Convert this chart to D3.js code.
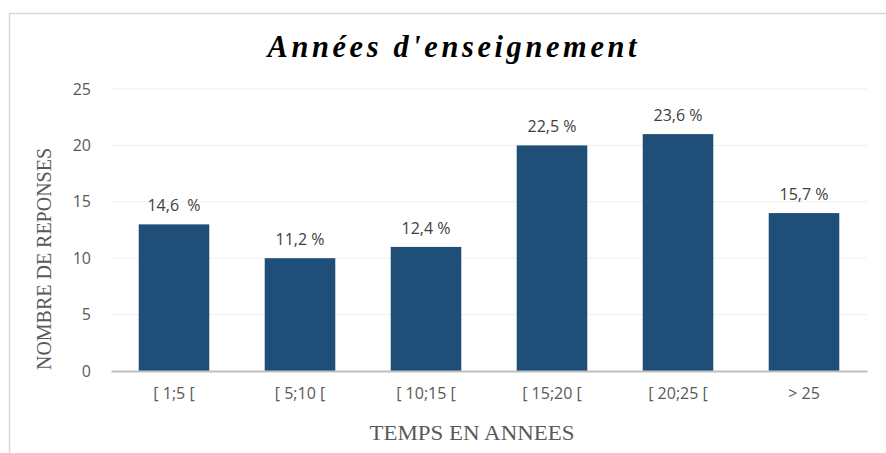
<!DOCTYPE html>
<html>
<head>
<meta charset="utf-8">
<script src="https://cdn.jsdelivr.net/npm/d3@7"></script>
<style>
  body { margin: 0; background: #fff; }
  svg { display: block; }
</style>
</head>
<body>
<div id="chart"></div>
<script>
var categories = ["[ 1;5 [", "[ 5;10 [", "[ 10;15 [", "[ 15;20 [", "[ 20;25 [", "> 25"];
var responses = [13, 10, 11, 20, 21, 14];
var percentLabels = ["14,6  %", "11,2 %", "12,4 %", "22,5 %", "23,6 %", "15,7 %"];
var yTicks = [0, 5, 10, 15, 20, 25];

var W = 886, H = 453;
var margin = {top: 89, right: 19, bottom: 82, left: 111};
var width = W - margin.left - margin.right;
var height = H - margin.top - margin.bottom;

var svg = d3.select("#chart").append("svg")
    .attr("width", W)
    .attr("height", H);

// chart frame
svg.append("rect")
    .attr("x", 9.5).attr("y", 13.5)
    .attr("width", W + 10).attr("height", H + 10)
    .attr("fill", "none")
    .attr("stroke", "#d9d9d9")
    .attr("stroke-width", 1.5);

// title: slightly narrow glyphs, a little letter spacing
var titleScale = 0.95;
svg.append("text")
    .attr("transform", "translate(452,57) scale(" + titleScale + ",1)")
    .attr("text-anchor", "middle")
    .attr("textLength", 369 / titleScale)
    .attr("lengthAdjust", "spacing")
    .style("font-family", "'Liberation Serif', 'DejaVu Serif', serif")
    .style("font-weight", "bold")
    .style("font-style", "italic")
    .style("font-size", "32px")
    .style("fill", "#000")
    .text("Années d'enseignement");

var x = d3.scaleBand().domain(categories).range([0, width]).paddingInner(0.44).paddingOuter(0.22);
var y = d3.scaleLinear().domain([0, 25]).range([height, 0]);

var g = svg.append("g").attr("transform", "translate(" + margin.left + "," + margin.top + ")");

// gridlines
g.selectAll(".grid").data(yTicks.slice(1)).enter().append("line")
    .attr("x1", 0).attr("x2", width)
    .attr("y1", function(d) { return y(d); })
    .attr("y2", function(d) { return y(d); })
    .attr("stroke", "#efefef")
    .attr("stroke-width", 1);

var yAxis = g.append("g")
    .call(d3.axisLeft(y).tickValues(yTicks).tickSize(0).tickPadding(20));
yAxis.select(".domain").remove();
yAxis.selectAll("text")
    .style("font-family", "'Open Sans', 'Liberation Sans', sans-serif")
    .style("font-size", "16px")
    .style("fill", "#595959");

g.selectAll(".bar").data(responses).enter().append("rect")
    .attr("x", function(d, i) { return x(categories[i]); })
    .attr("y", function(d) { return y(d); })
    .attr("width", x.bandwidth())
    .attr("height", function(d) { return height - y(d); })
    .attr("fill", "#1f4e79");

g.selectAll(".lbl").data(responses).enter().append("text")
    .attr("x", function(d, i) { return x(categories[i]) + x.bandwidth() / 2; })
    .attr("y", function(d) { return y(d) - 13; })
    .attr("text-anchor", "middle")
    .style("font-family", "'Open Sans', 'Liberation Sans', sans-serif")
    .style("font-size", "16px")
    .style("fill", "#404040")
    .style("white-space", "pre")
    .text(function(d, i) { return percentLabels[i]; });

var xAxis = g.append("g")
    .attr("transform", "translate(0," + height + ")")
    .call(d3.axisBottom(x).tickSize(0).tickPadding(17));
xAxis.select(".domain")
    .attr("stroke", "#bfbfbf")
    .attr("stroke-width", 2);
xAxis.selectAll("text")
    .style("font-family", "'Open Sans', 'Liberation Sans', sans-serif")
    .style("font-size", "16px")
    .style("fill", "#595959");

svg.append("text")
    .attr("transform", "translate(51,259) rotate(-90)")
    .attr("text-anchor", "middle")
    .attr("textLength", 222)
    .attr("lengthAdjust", "spacingAndGlyphs")
    .style("font-family", "'Liberation Serif', 'DejaVu Serif', serif")
    .style("font-size", "20px")
    .style("fill", "#595959")
    .text("NOMBRE DE REPONSES");

svg.append("text")
    .attr("x", 472).attr("y", 440)
    .attr("text-anchor", "middle")
    .attr("textLength", 205)
    .attr("lengthAdjust", "spacingAndGlyphs")
    .style("font-family", "'Liberation Serif', 'DejaVu Serif', serif")
    .style("font-size", "20px")
    .style("fill", "#595959")
    .text("TEMPS EN ANNEES");
</script>
</body>
</html>
